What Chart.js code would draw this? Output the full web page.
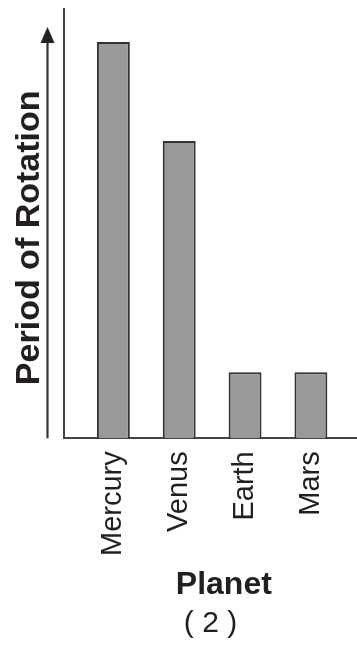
<!DOCTYPE html>
<html>
<head>
  <title>Period of Rotation</title>
  <style>
    body {
      margin: 0;
      background: #fff;
    }

    canvas {
      display: block;
    }
  </style>
</head>
<body>
  <canvas id="rotationChart" width="357" height="648"></canvas>

  <script src="https://cdn.jsdelivr.net/npm/chart.js"></script>
  <script>
    // planets along the bottom, relative rotation periods (no units on the axis)
    const planets = ['Mercury', 'Venus', 'Earth', 'Mars'];
    const rotationPeriods = [6, 4.5, 1, 1];

    const ink = '#231f20';
    const axisColor = '#444';

    // the upward arrow that sits beside the y axis
    const arrowPlugin = {
      id: 'axisArrow',
      afterDraw(chart) {
        const { ctx, chartArea } = chart;
        const x = chartArea.left - 16.5;
        const tip = chartArea.top + 18;
        ctx.save();
        ctx.strokeStyle = '#333';
        ctx.fillStyle = '#222';
        ctx.lineWidth = 2.2;
        ctx.beginPath();
        ctx.moveTo(x, chartArea.bottom);
        ctx.lineTo(x, tip + 12);
        ctx.stroke();
        ctx.beginPath();
        ctx.moveTo(x, tip);
        ctx.lineTo(x - 7, tip + 16);
        ctx.lineTo(x + 7, tip + 16);
        ctx.closePath();
        ctx.fill();
        ctx.restore();
      }
    };

    const ctx = document.getElementById('rotationChart').getContext('2d');
    new Chart(ctx, {
      type: 'bar',
      data: {
        datasets: [{
          data: rotationPeriods.map((v, i) => ({ x: i, y: v })),
          backgroundColor: '#9a9898',
          borderColor: '#333',
          borderWidth: 2,
          barPercentage: 1,
          categoryPercentage: 0.5
        }]
      },
      options: {
        responsive: false,
        animation: false,
        layout: {
          padding: { top: 9, left: 0, right: 0, bottom: 0 }
        },
        plugins: {
          legend: { display: false },
          tooltip: { enabled: false },
          title: {
            display: true,
            position: 'bottom',
            fullSize: false,
            text: '( 2 )',
            color: ink,
            font: { family: 'Liberation Sans, Arial, sans-serif', size: 30, weight: 'normal', lineHeight: 1 },
            padding: { top: 0, bottom: 9 }
          }
        },
        scales: {
          x: {
            type: 'linear',
            offset: false,
            min: -0.75,
            max: 3.7,
            grid: { display: false, drawTicks: false },
            border: { display: true, color: axisColor, width: 2 },
            afterBuildTicks: scale => {
              scale.ticks = planets.map((p, i) => ({ value: i }));
            },
            // let the axis run to the right edge
            afterFit: scale => {
              scale.paddingRight = 0;
            },
            ticks: {
              minRotation: 90,
              maxRotation: 90,
              padding: 13,
              color: ink,
              font: { family: 'Liberation Sans, Arial, sans-serif', size: 29 },
              callback: value => planets[value]
            },
            title: {
              display: true,
              // leading spaces push the word a little right of centre
              text: '   Planet',
              color: ink,
              font: { family: 'Liberation Sans, Arial, sans-serif', size: 32, weight: 'bold', lineHeight: 1 },
              padding: { top: 0, bottom: 8 }
            }
          },
          y: {
            min: 0,
            max: 6.5,
            grid: { display: false, drawTicks: false },
            border: { display: true, color: axisColor, width: 2 },
            ticks: { display: false },
            title: {
              display: true,
              // trailing spaces move the rotated title down the axis a bit
              text: 'Period of Rotation   ',
              color: ink,
              font: { family: 'Liberation Sans, Arial, sans-serif', size: 34, weight: 'bold', lineHeight: 1.2 },
              padding: { top: 9.6, bottom: 13.6 }
            }
          }
        }
      },
      plugins: [arrowPlugin]
    });
  </script>
</body>
</html>
